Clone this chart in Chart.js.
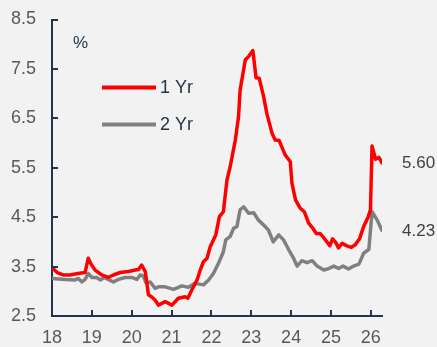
<!DOCTYPE html>
<html>
<head>
<meta charset="utf-8">
<script src="https://cdn.jsdelivr.net/npm/chart.js@4/dist/chart.umd.min.js"></script>
<style>
  html, body { margin: 0; padding: 0; background: #f2f2f2; }
  canvas { display: block; }
</style>
</head>
<body>
<canvas id="c" width="437" height="347"></canvas>
<script>
// Yields, % — time given as decimal years (18 = 2018)
const dates1Yr = [18.01, 18.13, 18.28, 18.45, 18.65, 18.83, 18.91, 18.98, 19.08, 19.25, 19.41, 19.54, 19.71, 19.92,
  20.09, 20.17, 20.25, 20.34, 20.42, 20.51, 20.59, 20.67, 20.84, 21.01, 21.17, 21.34, 21.41, 21.51, 21.64, 21.72,
  21.80, 21.89, 21.97, 22.05, 22.11, 22.20, 22.30, 22.39, 22.47, 22.60, 22.68, 22.72, 22.85, 22.93, 23.04, 23.12,
  23.20, 23.31, 23.39, 23.52, 23.60, 23.70, 23.85, 23.98, 24.02, 24.11, 24.23, 24.33, 24.44, 24.54, 24.63, 24.73,
  24.86, 24.97, 25.04, 25.11, 25.19, 25.28, 25.40, 25.51, 25.61, 25.72, 25.82, 25.93, 25.99, 26.03, 26.12, 26.20, 26.28];
const yield1Yr = [3.47, 3.38, 3.33, 3.33, 3.36, 3.38, 3.67, 3.55, 3.43, 3.33, 3.28, 3.33, 3.38, 3.40,
  3.43, 3.44, 3.53, 3.40, 2.93, 2.88, 2.82, 2.72, 2.79, 2.72, 2.86, 2.89, 2.86, 3.03, 3.23, 3.43,
  3.60, 3.67, 3.90, 4.04, 4.14, 4.51, 4.61, 5.25, 5.52, 6.06, 6.53, 7.07, 7.68, 7.75, 7.87, 7.32,
  7.31, 6.94, 6.60, 6.20, 6.06, 6.05, 5.76, 5.62, 5.19, 4.85, 4.68, 4.61, 4.38, 4.28, 4.17, 4.17,
  4.04, 3.92, 4.06, 4.00, 3.88, 3.97, 3.92, 3.89, 3.94, 4.07, 4.31, 4.50, 4.65, 5.94, 5.67, 5.71, 5.60];

const dates2Yr = [18.01, 18.33, 18.58, 18.66, 18.75, 18.83, 18.91, 19.00, 19.12, 19.21, 19.31, 19.41, 19.54, 19.67,
  19.83, 20.00, 20.13, 20.21, 20.29, 20.36, 20.46, 20.59, 20.67, 20.84, 21.05, 21.26, 21.42, 21.59, 21.80, 21.93,
  22.05, 22.18, 22.30, 22.36, 22.47, 22.56, 22.64, 22.72, 22.81, 22.93, 23.06, 23.18, 23.31, 23.43, 23.55, 23.69,
  23.81, 23.94, 24.06, 24.15, 24.27, 24.40, 24.53, 24.65, 24.82, 24.94, 25.07, 25.19, 25.30, 25.44, 25.57, 25.70,
  25.82, 25.95, 26.03, 26.16, 26.28];
const yield2Yr = [3.26, 3.24, 3.23, 3.26, 3.19, 3.24, 3.36, 3.28, 3.28, 3.23, 3.28, 3.24, 3.19, 3.24,
  3.28, 3.28, 3.24, 3.33, 3.31, 3.17, 3.19, 3.06, 3.09, 3.09, 3.04, 3.11, 3.08, 3.16, 3.13, 3.23,
  3.36, 3.57, 3.80, 4.04, 4.11, 4.28, 4.31, 4.65, 4.71, 4.58, 4.59, 4.44, 4.34, 4.24, 4.00, 4.14,
  4.04, 3.84, 3.67, 3.51, 3.62, 3.58, 3.62, 3.51, 3.43, 3.46, 3.51, 3.46, 3.51, 3.45, 3.51, 3.55,
  3.77, 3.85, 4.61, 4.44, 4.23];

const seriesNames = ['1 Yr', '2 Yr'];
const xTicks = [18, 19, 20, 21, 22, 23, 24, 25, 26];
const yTicks = [2.5, 3.5, 4.5, 5.5, 6.5, 7.5, 8.5];
const unitLabel = '%';

const RED = '#ff0000';
const GREY = '#808080';
const AXIS = '#1f3550';
const TICK_TEXT = '#595959';
const FONT = '"Liberation Sans", Arial, sans-serif';

const toPoints = (xs, ys) => xs.map((x, i) => ({ x: x, y: ys[i] }));

// Short tick marks pointing into the plot, plus legend, unit and end-value labels
const decorations = {
  id: 'decorations',
  afterDraw(chart) {
    const ctx = chart.ctx;
    const area = chart.chartArea;
    const xs = chart.scales.x, ys = chart.scales.y;
    ctx.save();
    ctx.strokeStyle = AXIS;
    ctx.lineWidth = 2;
    ctx.beginPath();
    yTicks.forEach(v => {
      const py = Math.round(ys.getPixelForValue(v));
      ctx.moveTo(area.left, py);
      ctx.lineTo(area.left + 6, py);
    });
    xTicks.forEach(v => {
      const px = Math.round(xs.getPixelForValue(v));
      ctx.moveTo(px, area.bottom);
      ctx.lineTo(px, area.bottom - 6);
    });
    ctx.stroke();

    ctx.textBaseline = 'middle';
    ctx.textAlign = 'left';
    ctx.fillStyle = '#243447';
    ctx.font = '17px ' + FONT;
    ctx.fillText(unitLabel, area.left + 21, area.top + 24);

    // legend
    ctx.font = '18px ' + FONT;
    const legendRows = [[seriesNames[0], RED, area.top + 68], [seriesNames[1], GREY, area.top + 105]];
    legendRows.forEach(([name, color, y]) => {
      ctx.strokeStyle = color;
      ctx.lineWidth = 4;
      ctx.beginPath();
      ctx.moveTo(area.left + 50, y);
      ctx.lineTo(area.left + 104, y);
      ctx.stroke();
      ctx.fillStyle = '#243447';
      ctx.fillText(name, area.left + 108, y + 1);
    });

    // last values at the right
    ctx.font = '17px ' + FONT;
    ctx.fillStyle = '#404040';
    const ends = [yield1Yr[yield1Yr.length - 1], yield2Yr[yield2Yr.length - 1]];
    ends.forEach(v => {
      ctx.fillText(v.toFixed(2), area.right + 20, ys.getPixelForValue(v) + 1);
    });
    ctx.restore();
  }
};

new Chart(document.getElementById('c'), {
  type: 'line',
  data: {
    datasets: [
      { label: seriesNames[0], data: toPoints(dates1Yr, yield1Yr), borderColor: RED, borderWidth: 3.5,
        pointRadius: 0, tension: 0, borderJoinStyle: 'round', borderCapStyle: 'round' },
      { label: seriesNames[1], data: toPoints(dates2Yr, yield2Yr), borderColor: GREY, borderWidth: 3.5,
        pointRadius: 0, tension: 0, borderJoinStyle: 'round', borderCapStyle: 'round', order: 1 }
    ]
  },
  options: {
    responsive: false,
    animation: false,
    events: [],
    layout: { padding: { top: 19.5, right: 55, left: 0, bottom: 0 } },
    plugins: { legend: { display: false }, tooltip: { enabled: false } },
    scales: {
      x: {
        type: 'linear', min: 18, max: 26.28,
        afterBuildTicks: s => { s.ticks = xTicks.map(v => ({ value: v })); },
        afterFit: s => { s.height = 31; s.paddingLeft = 0; s.paddingRight = 0; },
        grid: { display: false, drawTicks: false },
        border: { display: true, color: AXIS, width: 2 },
        ticks: { color: TICK_TEXT, font: { family: FONT, size: 18 }, padding: 11, maxRotation: 0,
                 callback: v => String(v) }
      },
      y: {
        type: 'linear', min: 2.5, max: 8.5,
        afterBuildTicks: s => { s.ticks = yTicks.map(v => ({ value: v })); },
        afterFit: s => { s.width = 52; s.paddingTop = 0; s.paddingBottom = 0; },
        grid: { display: false, drawTicks: false },
        border: { display: true, color: AXIS, width: 2 },
        ticks: { color: TICK_TEXT, font: { family: FONT, size: 18 }, padding: 16,
                 callback: v => v.toFixed(1) }
      }
    }
  },
  plugins: [decorations]
});
</script>
</body>
</html>
